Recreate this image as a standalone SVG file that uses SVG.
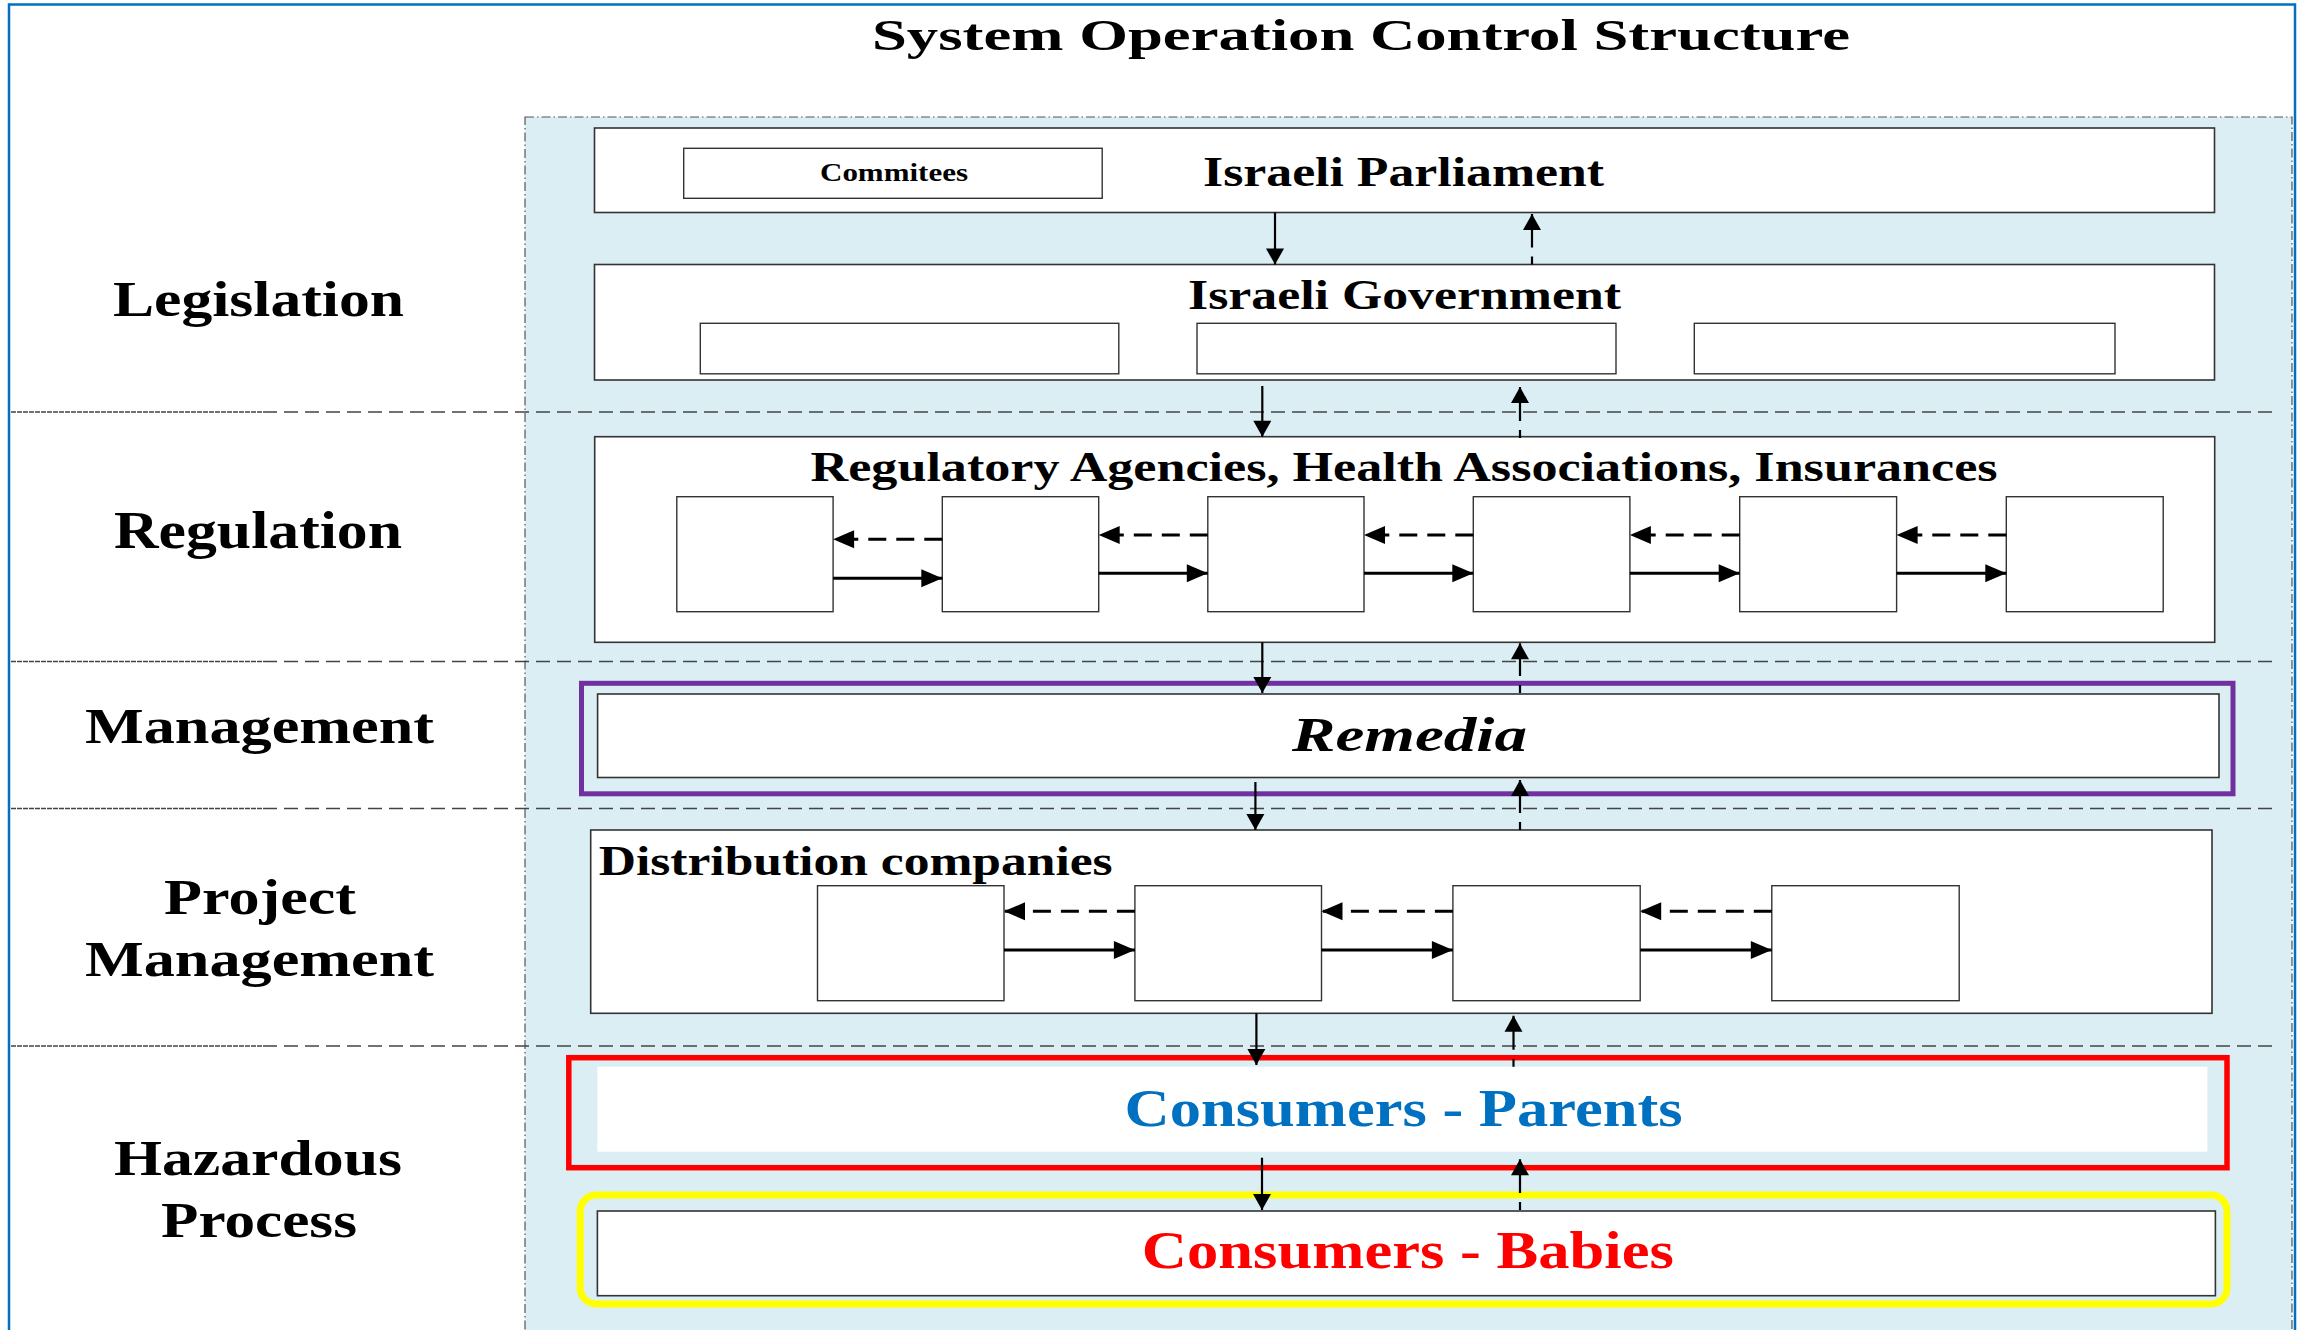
<svg xmlns="http://www.w3.org/2000/svg" width="2297" height="1330" viewBox="0 0 2297 1330">
<style>
.t{font-family:"Liberation Serif","Times New Roman",serif;font-weight:bold;fill:#000}
.box{fill:#fff;stroke:#333;stroke-width:1.6}
.sub{fill:#fff;stroke:#333;stroke-width:1.4}
.sep{stroke:#444;stroke-width:1.5;stroke-dasharray:14,7;fill:none}
.sepl{stroke:#444;stroke-width:1.5;stroke-dasharray:5,1;fill:none}
.down{stroke:#000;stroke-width:2.2;fill:none;marker-end:url(#ahV)}
.up{stroke:#000;stroke-width:2.2;fill:none;stroke-dasharray:8,9,60;marker-end:url(#ahV)}
.hs{stroke:#000;stroke-width:3;fill:none;marker-end:url(#ahH)}
.hd{stroke:#000;stroke-width:3;fill:none;stroke-dasharray:18,10;marker-end:url(#ahH)}
</style>
<defs>
<marker id="ahV" markerUnits="userSpaceOnUse" markerWidth="18" markerHeight="18" refX="16" refY="9" orient="auto" overflow="visible"><path d="M0,0 L16,9 L0,18 z" fill="#000"/></marker>
<marker id="ahH" markerUnits="userSpaceOnUse" markerWidth="22" markerHeight="18" refX="21" refY="9" orient="auto" overflow="visible"><path d="M0,0 L21,9 L0,18 z" fill="#000"/></marker>
</defs>
<rect x="0" y="0" width="2297" height="1330" fill="#fff"/>
<g id="frame">
<rect x="9" y="4.5" width="2286" height="1360" fill="none" stroke="#0070C0" stroke-width="2.5"/>
<rect x="525" y="117" width="1767" height="1240" fill="#DAEEF3" stroke="#555" stroke-width="1.2" stroke-dasharray="9,3,1.5,3"/>
</g>
<g id="title"><text class="t" x="872" y="50" font-size="44" textLength="978" lengthAdjust="spacingAndGlyphs">System Operation Control Structure</text></g>
<g id="separators">
<line class="sepl" x1="11" y1="412" x2="263" y2="412"/><line class="sep" x1="263" y1="412" x2="2274" y2="412"/>
<line class="sepl" x1="11" y1="661.5" x2="263" y2="661.5"/><line class="sep" x1="263" y1="661.5" x2="2274" y2="661.5"/>
<line class="sepl" x1="11" y1="808.5" x2="263" y2="808.5"/><line class="sep" x1="263" y1="808.5" x2="2274" y2="808.5"/>
<line class="sepl" x1="11" y1="1046" x2="263" y2="1046"/><line class="sep" x1="263" y1="1046" x2="2274" y2="1046"/>
</g>
<g id="levels">
<text class="t" x="113" y="316" font-size="51" textLength="291" lengthAdjust="spacingAndGlyphs">Legislation</text>
<text class="t" x="114" y="548" font-size="52" textLength="288" lengthAdjust="spacingAndGlyphs">Regulation</text>
<text class="t" x="85" y="743" font-size="50" textLength="349" lengthAdjust="spacingAndGlyphs">Management</text>
<text class="t" x="164" y="914" font-size="50" textLength="192" lengthAdjust="spacingAndGlyphs">Project</text>
<text class="t" x="85" y="976" font-size="50" textLength="349" lengthAdjust="spacingAndGlyphs">Management</text>
<text class="t" x="114" y="1175" font-size="50" textLength="288" lengthAdjust="spacingAndGlyphs">Hazardous</text>
<text class="t" x="161" y="1237" font-size="50" textLength="196" lengthAdjust="spacingAndGlyphs">Process</text>
</g>
<g id="parliament">
<rect class="box" x="594.5" y="128" width="1620" height="84.5"/>
<rect class="sub" x="683.7" y="148.3" width="418.5" height="50"/>
<text class="t" x="820" y="181" font-size="26" textLength="148" lengthAdjust="spacingAndGlyphs">Commitees</text>
<text class="t" x="1203" y="186" font-size="42" textLength="401" lengthAdjust="spacingAndGlyphs">Israeli Parliament</text>
</g>
<g id="government">
<rect class="box" x="594.5" y="264.5" width="1620" height="115.5"/>
<rect class="sub" x="700.3" y="323.3" width="418.5" height="50.5"/>
<rect class="sub" x="1197" y="323.3" width="419" height="50.5"/>
<rect class="sub" x="1694.3" y="323.3" width="420.7" height="50.5"/>
<text class="t" x="1188" y="309" font-size="42" textLength="433" lengthAdjust="spacingAndGlyphs">Israeli Government</text>
</g>
<g id="regulatory">
<rect class="box" x="594.7" y="436.7" width="1620" height="205.6"/>
<text class="t" x="810.6" y="480.7" font-size="42" textLength="1187" lengthAdjust="spacingAndGlyphs">Regulatory Agencies, Health Associations, Insurances</text>
<rect class="sub" x="676.8" y="496.7" width="156.3" height="115"/>
<rect class="sub" x="942.3" y="496.7" width="156.4" height="115"/>
<rect class="sub" x="1207.8" y="496.7" width="156.2" height="115"/>
<rect class="sub" x="1473.3" y="496.7" width="156.6" height="115"/>
<rect class="sub" x="1739.7" y="496.7" width="156.9" height="115"/>
<rect class="sub" x="2006.3" y="496.7" width="156.9" height="115"/>
</g>
<g id="remedia">
<rect x="581.5" y="683.3" width="1651.5" height="110.5" fill="none" stroke="#7030A0" stroke-width="5"/>
<rect class="box" x="597.6" y="694" width="1621.4" height="83.5"/>
<text class="t" x="1292" y="751" font-size="49" font-style="italic" textLength="235" lengthAdjust="spacingAndGlyphs">Remedia</text>
</g>
<g id="distribution">
<rect class="box" x="590.7" y="830" width="1621.3" height="183.3"/>
<text class="t" x="598.7" y="875" font-size="42" textLength="514" lengthAdjust="spacingAndGlyphs">Distribution companies</text>
<rect class="sub" x="817.5" y="885.7" width="186.5" height="115"/>
<rect class="sub" x="1134.9" y="885.7" width="186.6" height="115"/>
<rect class="sub" x="1452.9" y="885.7" width="187.3" height="115"/>
<rect class="sub" x="1771.8" y="885.7" width="187.4" height="115"/>
</g>
<g id="parents">
<rect x="568.8" y="1057.7" width="1658.2" height="110" fill="none" stroke="#FF0000" stroke-width="5.5"/>
<rect x="597.4" y="1066.7" width="1610" height="85" fill="#fff"/>
<text class="t" x="1124.6" y="1126" font-size="52" textLength="558" lengthAdjust="spacingAndGlyphs" style="fill:#0070C0">Consumers - Parents</text>
</g>
<g id="babies">
<rect x="580.2" y="1195" width="1646.8" height="109" rx="16" fill="none" stroke="#FFFF00" stroke-width="7"/>
<rect class="box" x="597.4" y="1211" width="1618" height="84.7"/>
<text class="t" x="1141.8" y="1268.3" font-size="52" textLength="532" lengthAdjust="spacingAndGlyphs" style="fill:#FF0000">Consumers - Babies</text>
</g>
<g id="connectors">
<line class="down" x1="1275" y1="212.5" x2="1275" y2="264.5"/>
<line class="up" x1="1532" y1="264.5" x2="1532" y2="214"/>
<line class="down" x1="1262.3" y1="386" x2="1262.3" y2="436.7"/>
<line class="up" x1="1520" y1="438" x2="1520" y2="387"/>
<line class="down" x1="1262.3" y1="642.3" x2="1262.3" y2="693"/>
<line class="up" x1="1520" y1="693" x2="1520" y2="643.3"/>
<line class="down" x1="1255.4" y1="782" x2="1255.4" y2="830"/>
<line class="up" x1="1520" y1="830" x2="1520" y2="780"/>
<line class="down" x1="1256.4" y1="1013.3" x2="1256.4" y2="1065"/>
<line class="up" x1="1513.5" y1="1066.7" x2="1513.5" y2="1015.7"/>
<line class="down" x1="1262" y1="1157.7" x2="1262" y2="1210"/>
<line class="up" x1="1520" y1="1210" x2="1520" y2="1159.3"/>
<line class="hd" x1="942.3" y1="539.3" x2="833.1" y2="539.3"/>
<line class="hs" x1="833.1" y1="578.3" x2="942.3" y2="578.3"/>
<line class="hd" x1="1207.8" y1="535" x2="1098.7" y2="535"/>
<line class="hs" x1="1098.7" y1="573.3" x2="1207.8" y2="573.3"/>
<line class="hd" x1="1473.3" y1="535" x2="1364" y2="535"/>
<line class="hs" x1="1364" y1="573.3" x2="1473.3" y2="573.3"/>
<line class="hd" x1="1739.7" y1="535" x2="1629.9" y2="535"/>
<line class="hs" x1="1629.9" y1="573.3" x2="1739.7" y2="573.3"/>
<line class="hd" x1="2006.3" y1="535" x2="1896.6" y2="535"/>
<line class="hs" x1="1896.6" y1="573.3" x2="2006.3" y2="573.3"/>
<line class="hd" x1="1134.9" y1="911.3" x2="1004" y2="911.3"/>
<line class="hs" x1="1004" y1="950" x2="1134.9" y2="950"/>
<line class="hd" x1="1452.9" y1="911.3" x2="1321.5" y2="911.3"/>
<line class="hs" x1="1321.5" y1="950" x2="1452.9" y2="950"/>
<line class="hd" x1="1771.8" y1="911.3" x2="1640.2" y2="911.3"/>
<line class="hs" x1="1640.2" y1="950" x2="1771.8" y2="950"/>
</g>
</svg>
